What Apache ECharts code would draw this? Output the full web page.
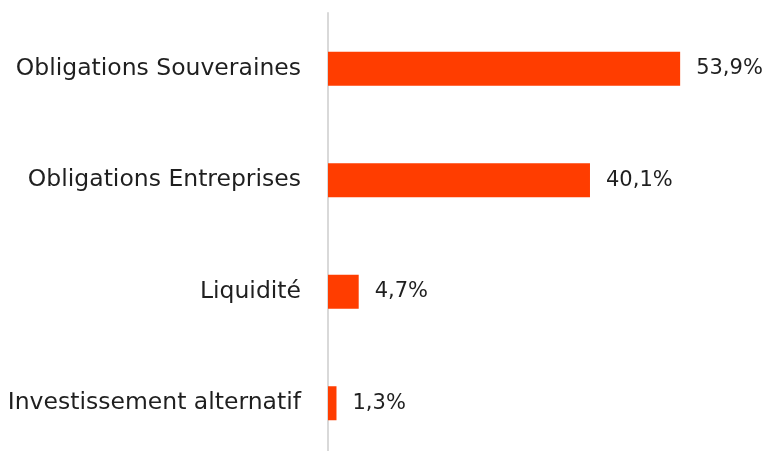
<!DOCTYPE html>
<html><head><meta charset="utf-8">
<script src="https://cdn.jsdelivr.net/npm/echarts@6/dist/echarts.min.js"></script>
<style>html,body{margin:0;padding:0;background:#fff}#c{width:766px;height:451px}</style>
</head><body><div id="c"></div>
<script>
const categories = ["Obligations Souveraines", "Obligations Entreprises", "Liquidité", "Investissement alternatif"];
const values = [53.9, 40.1, 4.7, 1.3];

const chart = echarts.init(document.getElementById('c'), null, {renderer: 'canvas'});
const font = "DejaVu Sans";
chart.setOption({
  animation: false,
  grid: {left: 328, top: 13, width: 392, height: 446, outerBoundsMode: 'none', containLabel: false},
  xAxis: {type: 'value', min: 0, max: 60, show: false},
  yAxis: {
    type: 'category', inverse: true, data: categories,
    axisLine: {show: true, lineStyle: {color: '#d9d9d9', width: 2}},
    axisTick: {show: false},
    axisLabel: {margin: 27, color: '#1f1f1f', fontFamily: font, fontSize: 23.5}
  },
  series: [{
    type: 'bar', data: values, barWidth: 34,
    itemStyle: {color: '#ff3d00'},
    label: {show: true, position: 'right', distance: 16, color: '#1f1f1f', fontFamily: font, fontSize: 21,
      formatter: p => p.value.toFixed(1).replace('.', ',') + '%'}
  }]
});
</script></body></html>
